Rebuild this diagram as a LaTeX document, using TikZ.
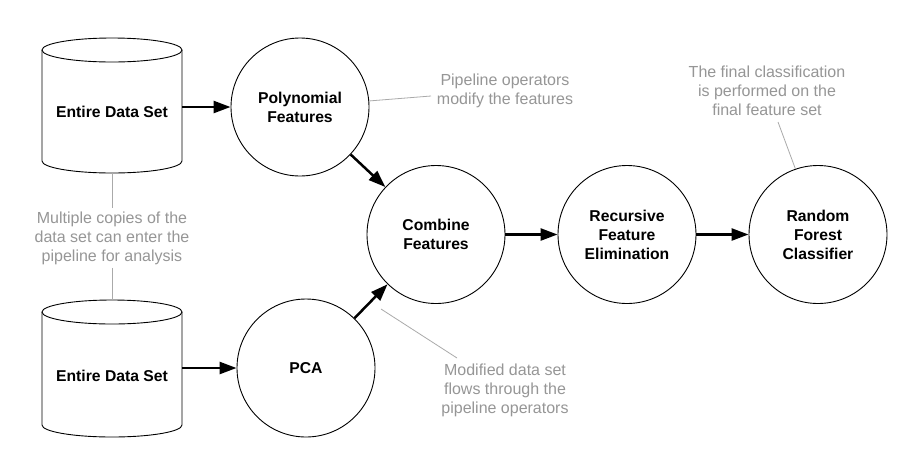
\documentclass[tikz,border=0pt]{standalone}
\usepackage{fontspec}
\setmainfont{Liberation Sans}
\usetikzlibrary{arrows.meta}
\definecolor{annot}{RGB}{150,150,150}
\definecolor{annotline}{RGB}{170,170,170}
\tikzset{
  circ/.style={circle, draw, line width=0.9pt, minimum size=138pt, inner sep=0pt, align=center,
    font=\fontsize{15.7}{19}\selectfont\bfseries},
  cyltext/.style={minimum width=140pt, inner sep=0pt, font=\fontsize{15.7}{19}\selectfont\bfseries},
  cylline/.style={line width=0.9pt},
  flow/.style={line width=2.5pt, -{Triangle[length=17pt,width=12pt]}},
  note/.style={text=annot, align=center, font=\fontsize{16}{19}\selectfont},
  noteline/.style={draw=annotline, line width=0.8pt},
}
\begin{document}
\begin{tikzpicture}[x=1pt,y=-1pt]
\fill[white] (0,0) rectangle (911,459);
\useasboundingbox (0,0) rectangle (911,459);

% cylinders
\draw[cylline] (42,50) -- (42,161) arc[start angle=180,end angle=360,x radius=70pt,y radius=12pt] -- (182,50);
\draw[cylline] (112,50) ellipse[x radius=70pt,y radius=12pt];
\draw[cylline] (42,312) -- (42,425) arc[start angle=180,end angle=360,x radius=70pt,y radius=12pt] -- (182,312);
\draw[cylline] (112,312) ellipse[x radius=70pt,y radius=12pt];
\node[cyltext] (d1) at (112,112) {Entire Data Set};
\node[cyltext] (d2) at (112,376) {Entire Data Set};
\coordinate (d1b) at (112,173);
\coordinate (d2t) at (112,300);

% circles
\node[circ] (poly) at (300,107) {Polynomial\\Features};
\node[circ] (pca)  at (306,368) {PCA};
\node[circ] (comb) at (436,234.5) {Combine\\Features};
\node[circ] (rfe)  at (627,234.5) {Recursive\\Feature\\Elimination};
\node[circ] (rfc)  at (818,234.5) {Random\\Forest\\Classifier};

% flow arrows
\draw[flow] (d1.east |- poly.west) -- (poly.west);
\draw[flow] (d2.east |- pca.west) -- (pca.west);
\draw[flow] (poly) -- (comb);
\draw[flow] (pca) -- (comb);
\draw[flow] (comb) -- (rfe);
\draw[flow] (rfe) -- (rfc);

% annotations
\node[note] (mc) at (112,238) {Multiple copies of the\\data set can enter the\\pipeline for analysis};
\draw[noteline] (d1b) -- (mc.north);
\draw[noteline] (mc.south) -- (d2t);

\node[note] (po) at (505,91) {Pipeline operators\\modify the features};
\coordinate (pol) at (431,96);
\draw[noteline] (poly.5) -- (pol);

\node[note] (fc) at (767,91) {The final classification\\is performed on the\\final feature set};
\coordinate (fcl) at (778,122);
\draw[noteline] (fcl) -- (rfc.109);

\node[note] (md) at (505,390) {Modified data set\\flows through the\\pipeline operators};
\coordinate (mda) at (381,309);
\coordinate (mdb) at (457,358);
\draw[noteline] (mda) -- (mdb);
\end{tikzpicture}
\end{document}
